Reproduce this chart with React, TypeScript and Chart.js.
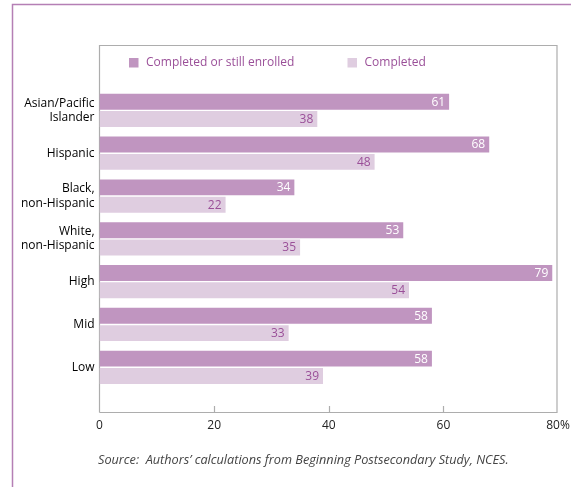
import React, { useEffect, useRef } from "react";
import { Chart, registerables } from "chart.js";

Chart.register(...registerables);

const categories: (string | string[])[] = [
  ["Asian/Pacific", "Islander"],
  "Hispanic",
  ["Black,", "non-Hispanic"],
  ["White,", "non-Hispanic"],
  "High",
  "Mid",
  "Low",
];
const completedOrEnrolled = [61, 68, 34, 53, 79, 58, 58];
const completed = [38, 48, 22, 35, 54, 33, 39];
const seriesNames = ["Completed or still enrolled", "Completed"];
const xTicks = [0, 20, 40, 60, 80];
const sourceNote = "Source:  Authors\u2019 calculations from Beginning Postsecondary Study, NCES.";

const DARK = "#c095c0";
const LIGHT = "#dfcde0";
const PURPLE_TEXT = "#9a4f98";
const FRAME = "#b57fb5";
const BOX = "#adadad";
const FONT = "'Open Sans', 'Noto Sans', sans-serif";

const decor = {
  id: "decor",
  beforeDraw(chart: any) {
    const ctx = chart.ctx;
    const ca = chart.chartArea;
    ctx.save();
    // outer frame
    ctx.strokeStyle = FRAME;
    ctx.lineWidth = 1.5;
    ctx.beginPath();
    ctx.moveTo(12.5, 487);
    ctx.lineTo(12.5, 4.5);
    ctx.lineTo(571, 4.5);
    ctx.stroke();
    // plot box
    ctx.strokeStyle = BOX;
    ctx.lineWidth = 1.2;
    ctx.beginPath();
    ctx.moveTo(ca.left, 412.5);
    ctx.lineTo(ca.left, 45.5);
    ctx.lineTo(ca.right - 1, 45.5);
    ctx.lineTo(ca.right - 1, 412.5);
    ctx.lineTo(ca.left, 412.5);
    ctx.stroke();
    const xs = chart.scales.x;
    xTicks.slice(1, -1).forEach((v) => {
      const px = Math.round(xs.getPixelForValue(v)) + 0.5;
      ctx.beginPath();
      ctx.moveTo(px, 412.5);
      ctx.lineTo(px, 406);
      ctx.stroke();
    });
    // legend
    ctx.font = `12px ${FONT}`;
    ctx.textBaseline = "middle";
    ctx.textAlign = "left";
    const legX = [129, 347.5];
    chart.data.datasets.forEach((ds: any, i: number) => {
      ctx.fillStyle = ds.backgroundColor;
      ctx.fillRect(legX[i], 58, 9.5, 9.5);
      ctx.fillStyle = PURPLE_TEXT;
      ctx.fillText(ds.label, legX[i] + 17, 62.5);
    });
    // source
    ctx.font = `italic 12.7px ${FONT}`;
    ctx.fillStyle = "#444";
    ctx.fillText(sourceNote, 98, 460);
    ctx.restore();
  },
  afterDatasetsDraw(chart: any) {
    const ctx = chart.ctx;
    ctx.save();
    ctx.font = `12px ${FONT}`;
    ctx.textAlign = "right";
    ctx.textBaseline = "middle";
    chart.data.datasets.forEach((ds: any, di: number) => {
      const meta = chart.getDatasetMeta(di);
      meta.data.forEach((bar: any, i: number) => {
        ctx.fillStyle = di === 0 ? "#ffffff" : PURPLE_TEXT;
        ctx.fillText(String(ds.data[i]), bar.x - 4, bar.y + 0.5);
      });
    });
    ctx.restore();
  },
};

export default function App() {
  const ref = useRef<HTMLCanvasElement | null>(null);
  useEffect(() => {
    if (!ref.current) return;
    const chart = new Chart(ref.current, {
      type: "bar",
      data: {
        labels: categories,
        datasets: [
          {
            label: seriesNames[0],
            data: completedOrEnrolled,
            backgroundColor: DARK,
            barPercentage: 0.92,
            categoryPercentage: 0.81,
          },
          {
            label: seriesNames[1],
            data: completed,
            backgroundColor: LIGHT,
            barPercentage: 0.92,
            categoryPercentage: 0.81,
          },
        ],
      },
      options: {
        indexAxis: "y",
        animation: false,
        responsive: false,
        maintainAspectRatio: false,
        layout: { padding: { top: 89, right: 13, left: 0, bottom: 0 } },
        plugins: {
          legend: { display: false },
          tooltip: { enabled: false },
          title: { display: false },
        },
        scales: {
          x: {
            min: 0,
            max: 80,
            afterFit: (s: any) => {
              s.height = 98.3;
              s.paddingLeft = 0;
              s.paddingRight = 0;
            },
            afterBuildTicks: (s: any) => {
              s.ticks = xTicks.map((v) => ({ value: v }));
            },
            grid: { display: false, drawTicks: false },
            border: { display: false },
            ticks: {
              padding: 30,
              color: "#222",
              font: { family: FONT, size: 12 },
              callback: (v: any) => (Number(v) === 80 ? "80%" : String(v)),
            },
          },
          y: {
            afterFit: (s: any) => {
              s.width = 99.5;
              s.paddingTop = 0;
              s.paddingBottom = 0;
            },
            grid: { display: false, drawTicks: false },
            border: { display: false },
            ticks: {
              padding: 5,
              color: "#000",
              font: { family: FONT, size: 12 },
            },
          },
        },
      },
      plugins: [decor],
    });
    return () => chart.destroy();
  }, []);
  return (
    <div style={{ position: "absolute", left: 0, top: 0, width: 571, height: 487, background: "#fff" }}>
      <canvas ref={ref} width={571} height={487} style={{ display: "block" }} />
    </div>
  );
}
